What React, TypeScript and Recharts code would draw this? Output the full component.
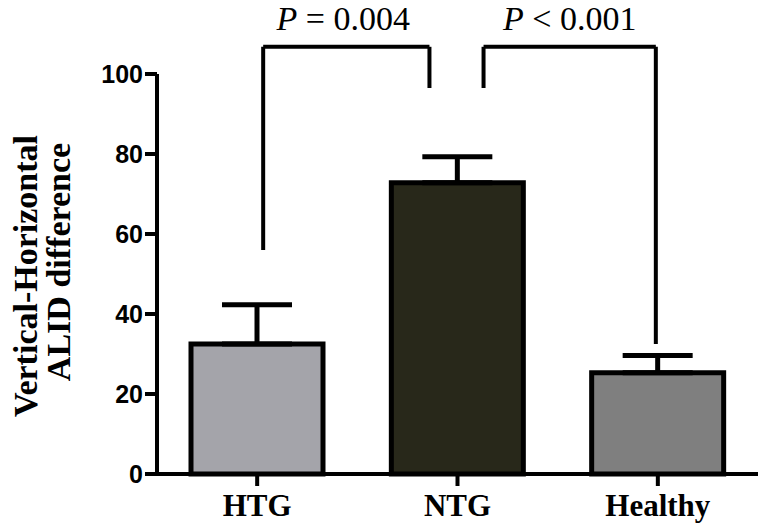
import { BarChart, Bar, XAxis, YAxis, ErrorBar, Cell, ReferenceLine, ReferenceDot } from 'recharts'

const categories = ['HTG', 'NTG', 'Healthy']
const means = [32.5, 72.8, 25.3]
const sem = [9.8, 6.5, 4.3]
const fills = ['#a4a4aa', '#28281a', '#7f7f7f']
const yTicks = [0, 20, 40, 60, 80, 100]

// brackets in (band position, value) units: band i is centred at i + 0.5
const bracketA = [
  { x: 0.53, y: 56 },
  { x: 0.53, y: 106.8 },
  { x: 1.36, y: 106.8 },
  { x: 1.36, y: 96.5 },
]
const bracketB = [
  { x: 1.63, y: 96.5 },
  { x: 1.63, y: 106.8 },
  { x: 2.49, y: 106.8 },
  { x: 2.49, y: 32.5 },
]
const pLabels = [
  { x: 0.93, y: 111, op: '=', value: '0.004' },
  { x: 2.06, y: 111, op: '<', value: '0.001' },
]

const data = categories.map((name, i) => ({
  name,
  pos: i + 0.5,
  mean: means[i],
  err: [0, sem[i]],
  fill: fills[i],
}))

const serif = '"Liberation Serif", "Times New Roman", serif'
const sans = '"Liberation Sans", Arial, sans-serif'

function segments(points: { x: number; y: number }[]) {
  return points.slice(1).map((p, i) => (
    <ReferenceLine
      key={i}
      xAxisId="pos"
      segment={[points[i], p]}
      stroke="#000"
      strokeWidth={4}
      ifOverflow="visible"
    />
  ))
}

function YLabel() {
  return (
    <g fontFamily={serif} fontWeight="bold" fontSize={34} fill="#000">
      <text x={37} y={276} transform="rotate(-90 37 276)" textAnchor="middle">
        Vertical-Horizontal
      </text>
      <text x={70} y={262} transform="rotate(-90 70 262)" textAnchor="middle">
        ALID difference
      </text>
    </g>
  )
}

export default function App() {
  return (
    <div style={{ width: 766, height: 531, background: '#fff' }}>
      <style>{'body{margin:0}'}</style>
      <BarChart
        width={766}
        height={531}
        data={data}
        margin={{ top: 74, right: 8, bottom: 0, left: 0 }}
        barCategoryGap={0}
      >
        <XAxis
          dataKey="name"
          height={57}
          axisLine={{ stroke: '#000', strokeWidth: 4 }}
          tickLine={{ stroke: '#000', strokeWidth: 4 }}
          tickSize={12}
          tickMargin={8}
          tick={{ fill: '#000', fontFamily: serif, fontWeight: 'bold', fontSize: 31 }}
        />
        <XAxis xAxisId="pos" dataKey="pos" type="number" domain={[0, 3]} allowDataOverflow hide />
        <YAxis
          width={157}
          domain={[0, 100]}
          ticks={yTicks}
          interval={0}
          axisLine={{ stroke: '#000', strokeWidth: 4 }}
          tickLine={{ stroke: '#000', strokeWidth: 4 }}
          tickSize={12}
          tickMargin={2}
          tick={{ fill: '#000', fontFamily: sans, fontWeight: 'bold', fontSize: 25 }}
          label={{ content: () => <YLabel /> }}
        />
        <Bar dataKey="mean" barSize={132} stroke="#000" strokeWidth={5} isAnimationActive={false}>
          {data.map((d, i) => (
            <Cell key={i} fill={d.fill} />
          ))}
          <ErrorBar dataKey="err" direction="y" width={35} stroke="#000" strokeWidth={5} />
        </Bar>
        {segments(bracketA)}
        {segments(bracketB)}
        {pLabels.map((p, i) => (
          <ReferenceDot
            key={i}
            xAxisId="pos"
            x={p.x}
            y={p.y}
            r={0}
            fill="none"
            stroke="none"
            ifOverflow="visible"
            label={{
              content: (props: any) => {
                const vb = props.viewBox || {}
                const cx = (vb.x ?? 0) + (vb.width ?? 0) / 2
                const cy = (vb.y ?? 0) + (vb.height ?? 0) / 2
                return (
                  <text x={cx} y={cy} textAnchor="middle" fontFamily={serif} fontSize={34} fill="#000">
                    <tspan fontStyle="italic">P</tspan> {p.op} {p.value}
                  </text>
                )
              },
            }}
          />
        ))}
      </BarChart>
    </div>
  )
}
